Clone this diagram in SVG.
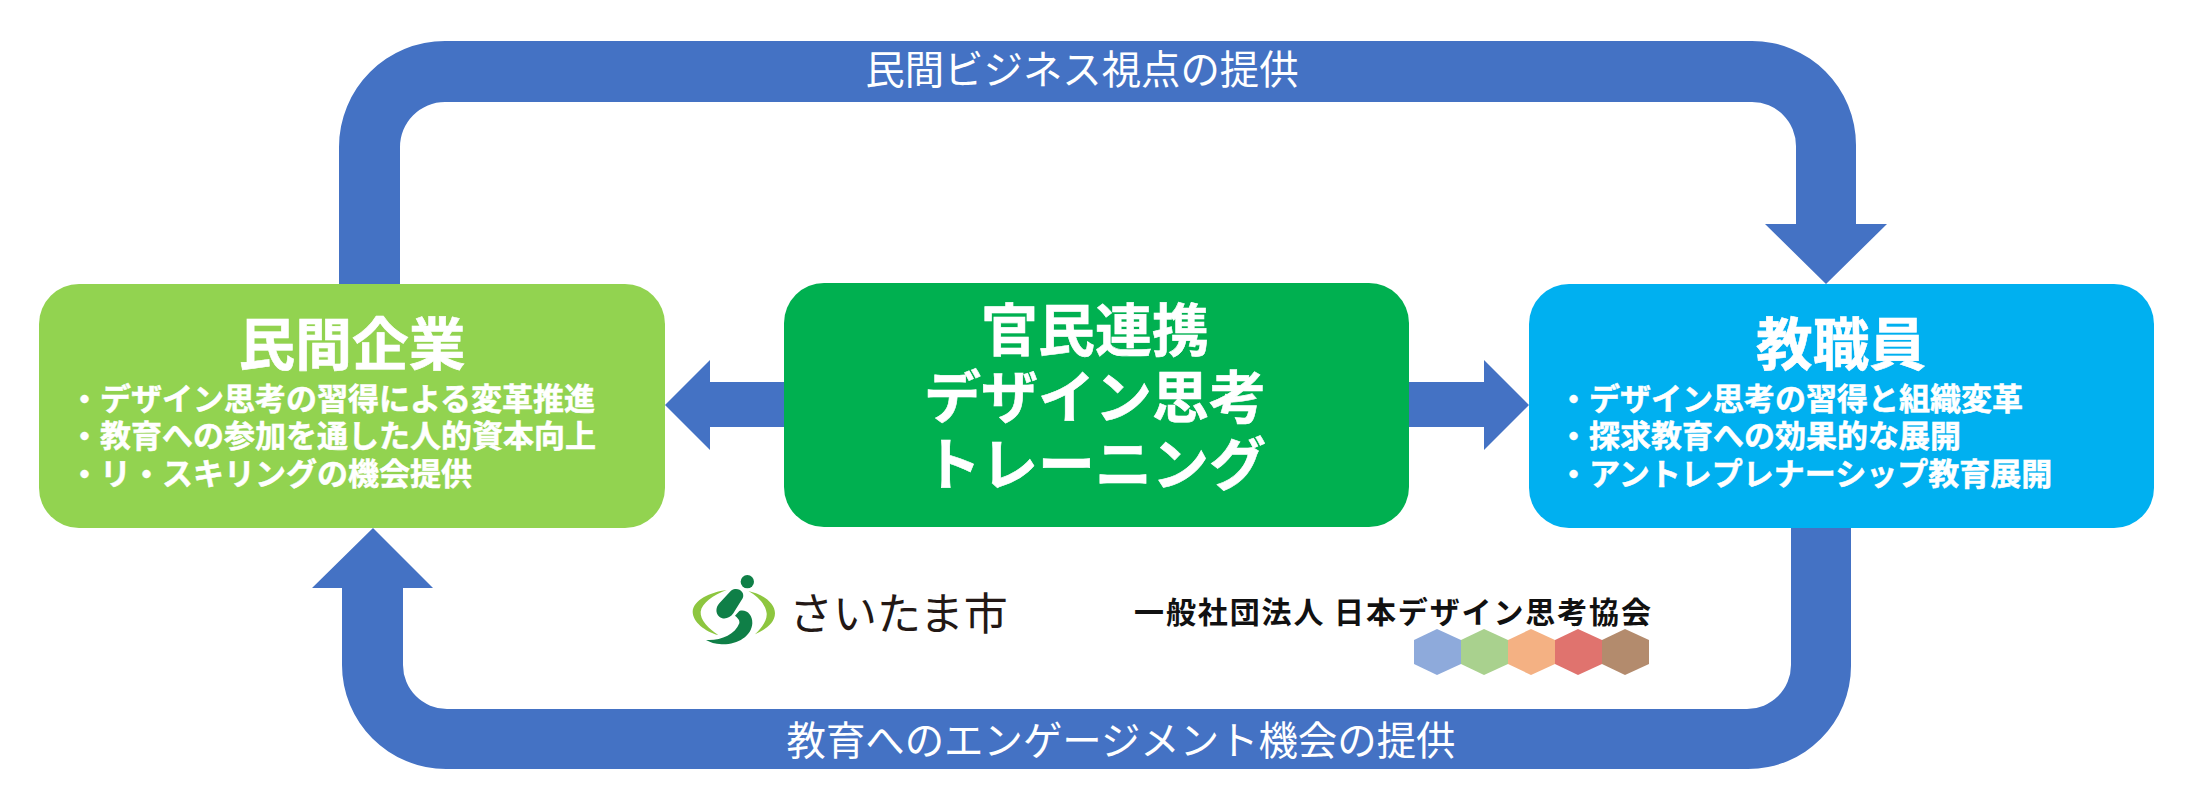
<svg xmlns="http://www.w3.org/2000/svg" width="2204" height="796" viewBox="0 0 2204 796">
<style>
text{font-family:"Noto Sans CJK JP","Noto Sans CJK SC",sans-serif}
.arrow{fill:#4472C4}
.label{fill:#fff;font-size:39.4px;text-anchor:middle}
.title{fill:#fff;stroke:#fff;stroke-width:.6;font-size:56.7px;font-weight:700;text-anchor:middle}
.item{fill:#fff;stroke:#fff;stroke-width:.5;font-size:31px;font-weight:700}
.hex{stroke:none}
.green{fill:#0F7F47}
.lime{fill:#8DC63F}
</style>
<rect width="2204" height="796" fill="#fff"/>
<g id="connectors">
<path class="arrow" d="M339 284V147A106 106 0 0 1 445 41H1752A104 104 0 0 1 1856 145V224H1887L1826 284L1765 224H1796V146A44 44 0 0 0 1752 102H445A45 45 0 0 0 400 147V284Z"/>
<path class="arrow" d="M1791 528V665A44 44 0 0 1 1747 709H447A44 44 0 0 1 403 665V588H433L373 528L312 588H342V665A104 104 0 0 0 446 769H1748A103 103 0 0 0 1851 666V528Z"/>
<path class="arrow" d="M784 382H710V360L665 405L710 450V427H784Z"/>
<path class="arrow" d="M1409 382H1484V360L1529 405L1484 450V427H1409Z"/>
<text class="label" x="1082" y="84">民間ビジネス視点の提供</text>
<text class="label" x="1121" y="755">教育へのエンゲージメント機会の提供</text>
</g>
<g id="node-company">
<rect x="39" y="284" width="626" height="244" rx="40" ry="40" fill="#92D350"/>
<text class="title" x="352" y="365">民間企業</text>
<text class="item" x="69" y="410">・デザイン思考の習得による変革推進</text>
<text class="item" x="69" y="447">・教育への参加を通した人的資本向上</text>
<text class="item" x="69" y="485">・リ・スキリングの機会提供</text>
</g>
<g id="node-center">
<rect x="784" y="283" width="625" height="244" rx="40" ry="40" fill="#00B050"/>
<text class="title" x="1095" y="351" style="font-size:57px">官民連携</text>
<text class="title" x="1095" y="418" style="font-size:57px">デザイン思考</text>
<text class="title" x="1095" y="485" style="font-size:57px">トレーニング</text>
</g>
<g id="node-staff">
<rect x="1529" y="284" width="625" height="244" rx="40" ry="40" fill="#00B0F0"/>
<text class="title" x="1841" y="365">教職員</text>
<text class="item" x="1558" y="410">・デザイン思考の習得と組織変革</text>
<text class="item" x="1558" y="447">・探求教育への効果的な展開</text>
<text class="item" x="1558" y="485">・アントレプレナーシップ教育展開</text>
</g>
<g id="logo-saitama">
<g transform="translate(680 565) scale(.3333)">
<circle class="green" cx="202" cy="50" r="20"/>
<path class="green" d="M165 72C182 70 195 85 188 100L160 145C150 160 130 165 118 155C105 145 108 125 118 115L150 80C155 75 160 72 165 72Z"/>
<path class="green" d="M178 138C200 132 218 150 217 175C215 215 170 240 125 238C105 237 90 232 78 225C120 228 165 210 178 175C180 165 172 158 165 152Z"/>
<path class="lime" d="M140 75C90 82 40 105 38 140C38 170 75 200 115 210C85 190 60 165 62 140C65 115 100 90 140 75Z"/>
<path class="lime" d="M205 78C250 88 285 115 285 145C285 175 255 195 225 208C245 190 262 165 260 145C258 120 235 95 205 78Z"/>
</g>
<text x="789" y="630" font-size="44" font-weight="400" fill="#231815">さいたま市</text>
</g>
<g id="logo-jdta">
<text x="1134" y="623" font-size="30" font-weight="700" fill="#111" textLength="517" lengthAdjust="spacing">一般社団法人 日本デザイン思考協会</text>
<polygon class="hex" fill="#8EAADB" points="1414,640 1437,629 1461,640 1461,664 1437,675 1414,664"/>
<polygon class="hex" fill="#A9D18E" points="1461,640 1484,629 1508,640 1508,664 1484,675 1461,664"/>
<polygon class="hex" fill="#F4B183" points="1508,640 1531,629 1555,640 1555,664 1531,675 1508,664"/>
<polygon class="hex" fill="#E0736E" points="1555,640 1578,629 1602,640 1602,664 1578,675 1555,664"/>
<polygon class="hex" fill="#B38B6D" points="1602,640 1625,629 1649,640 1649,664 1625,675 1602,664"/>
</g>
</svg>
